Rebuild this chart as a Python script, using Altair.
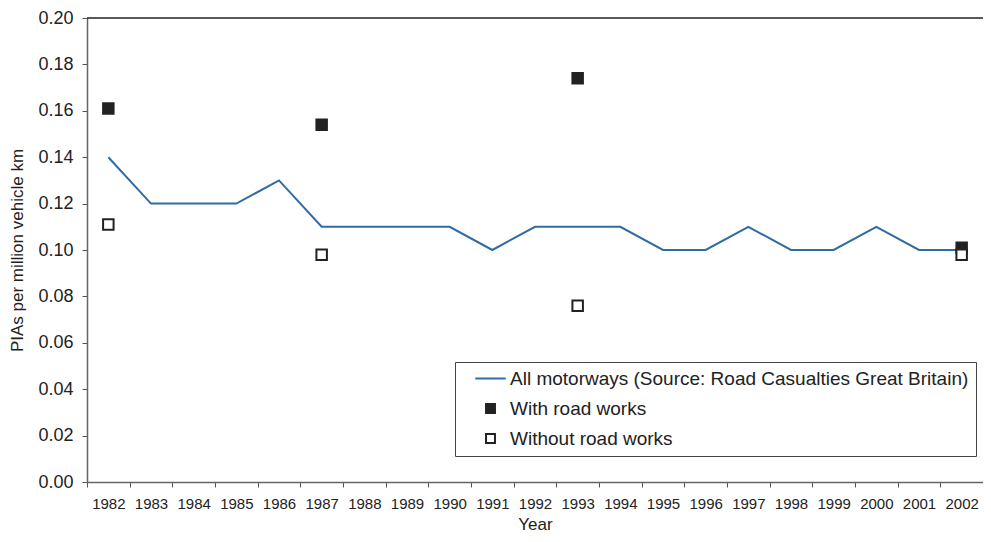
import altair as alt
import pandas as pd

years = [str(y) for y in range(1982, 2003)]
all_motorways = [0.14, 0.12, 0.12, 0.12, 0.13, 0.11, 0.11, 0.11, 0.11, 0.10, 0.11,
                 0.11, 0.11, 0.10, 0.10, 0.11, 0.10, 0.10, 0.11, 0.10, 0.10]
survey_years = ["1982", "1987", "1993", "2002"]
with_works = [0.161, 0.154, 0.174, 0.101]
without_works = [0.111, 0.098, 0.076, 0.098]
series_names = ["All motorways (Source: Road Casualties Great Britain)",
                "With road works", "Without road works"]
y_ticks = [0.0, 0.02, 0.04, 0.06, 0.08, 0.10, 0.12, 0.14, 0.16, 0.18, 0.20]

line_df = pd.DataFrame({"Year": years, "value": all_motorways, "series": series_names[0]})
pts_df = pd.concat([
    pd.DataFrame({"Year": survey_years, "value": with_works, "series": series_names[1]}),
    pd.DataFrame({"Year": survey_years, "value": without_works, "series": series_names[2]}),
], ignore_index=True)

FONT = "Liberation Sans"
W, H = 896, 464

x_enc = alt.X("Year:N", sort=years,
              scale=alt.Scale(type="band", domain=years, paddingInner=0, paddingOuter=0),
              axis=alt.Axis(title="Year", tickBand="extent", labelAngle=0,
                            labelFontSize=15, titleFontSize=17, tickSize=5,
                            labelPadding=9, titlePadding=5, domainColor="#666",
                            domainWidth=1.5, tickColor="#555", labelColor="#222",
                            titleColor="#222", titleFontWeight="normal"))
y_enc = alt.Y("value:Q",
              scale=alt.Scale(domain=[0, 0.2], nice=False, zero=True),
              axis=alt.Axis(title="PIAs per million vehicle km", values=y_ticks, format=".2f",
                            grid=False, labelFontSize=18, titleFontSize=17, tickSize=5,
                            labelPadding=9, titlePadding=11, domainColor="#666",
                            domainWidth=1.5, tickColor="#555", labelColor="#222",
                            titleColor="#222", titleFontWeight="normal"))

stroke_scale = alt.Scale(domain=series_names, range=["#2f6ca3", "#222222", "#222222"])
fill_scale = alt.Scale(domain=series_names, range=["transparent", "#222222", "#ffffff"])
shape_scale = alt.Scale(domain=series_names, range=["M-3.4,0H3.4", "square", "square"])

legend = alt.Legend(title=None, orient="none", legendX=368, legendY=344,
                    labelFontSize=19, labelColor="#222", strokeColor="#444",
                    fillColor="white", padding=7, rowPadding=10,
                    symbolSize=80, symbolStrokeWidth=2, symbolOffset=19,
                    labelOffset=10, labelLimit=800)

frame_top = alt.Chart(pd.DataFrame({"k": [0]})).mark_rule(
    color="#222", strokeWidth=1.5
).encode(y=alt.value(0), x=alt.value(0), x2=alt.value(W))

line = alt.Chart(line_df).mark_line(strokeWidth=2).encode(
    x=x_enc, y=y_enc,
    stroke=alt.Stroke("series:N", scale=stroke_scale, legend=legend),
)

points = alt.Chart(pts_df).mark_point(size=110, strokeWidth=2, opacity=1).encode(
    x=x_enc, y=y_enc,
    stroke=alt.Stroke("series:N", scale=stroke_scale, legend=legend),
    fill=alt.Fill("series:N", scale=fill_scale, legend=legend),
    shape=alt.Shape("series:N", scale=shape_scale, legend=legend),
)

chart = alt.layer(frame_top, line, points).properties(
    width=W, height=H,
    autosize=alt.AutoSizeParams(type="none"),
    padding={"left": 79, "top": 10, "right": 0, "bottom": 52},
).configure(font=FONT).configure_view(strokeWidth=0)

chart.save("out.html", embed_options={"renderer": "svg", "actions": False})
